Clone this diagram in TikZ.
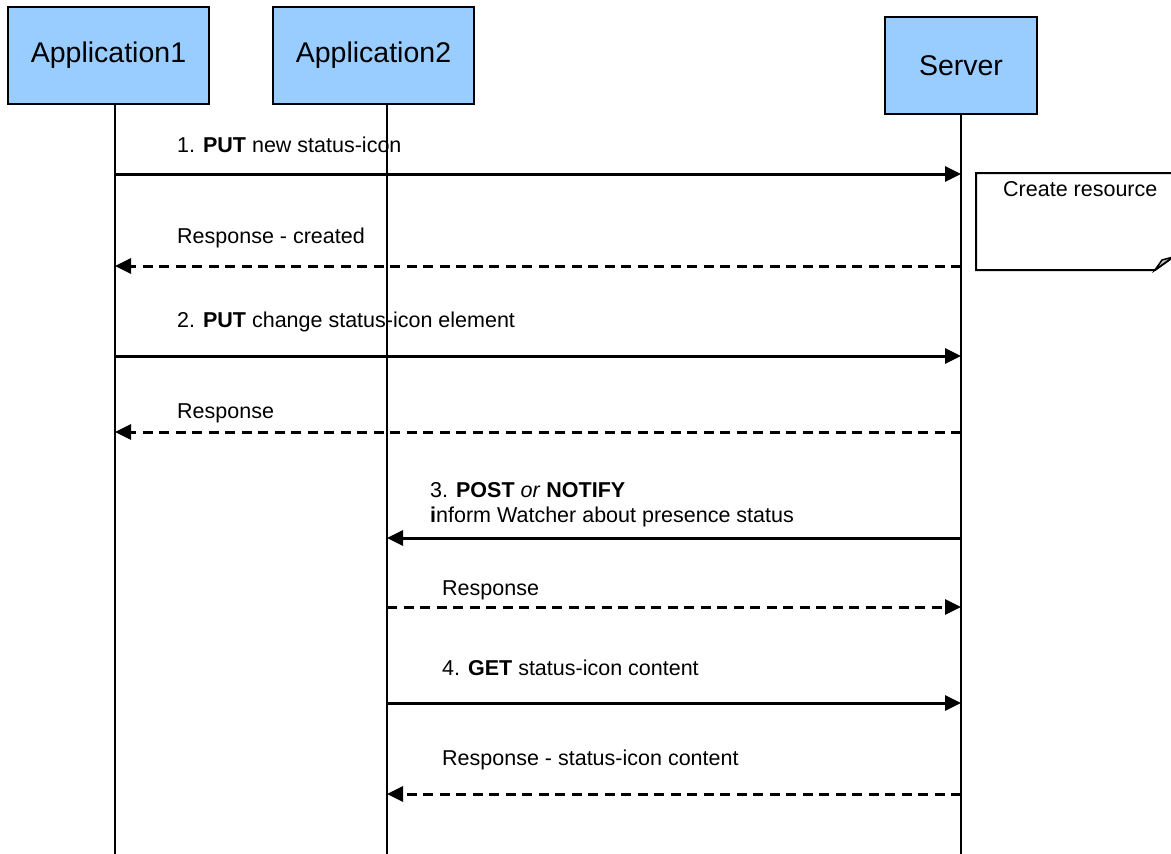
\documentclass[tikz,border=0pt]{standalone}
\usepackage{fontspec}
\setmainfont{Liberation Sans}
\usetikzlibrary{positioning,arrows.meta}
\definecolor{boxblue}{HTML}{99CCFF}
\definecolor{foldgray}{HTML}{C8C8C8}

\tikzset{
  entity/.style={draw=black, fill=boxblue, line width=2.5pt, inner sep=0pt, font=\fontsize{28.5}{34}\selectfont},
  lifeline/.style={line width=2pt},
  msg/.style={line width=3pt, -{Triangle[length=16pt,width=15pt]}},
  reply/.style={msg, dash pattern=on 10pt off 6.5pt},
  lbl/.style={anchor=base west, inner sep=0pt, font=\fontsize{21.5}{25}\selectfont},
}

\begin{document}
\begin{tikzpicture}[x=1pt,y=-1pt]
      \useasboundingbox (0,0) rectangle (1171,854);
      \clip (0,0) rectangle (1171,854);

      % participants
      \node[entity, minimum width=201pt, minimum height=97pt] (app1) at (108.5,55.5) {Application1};
      \node[entity, minimum width=201pt, minimum height=97pt] (app2) at (373.5,55.5) {Application2};
      \node[entity, minimum width=152pt, minimum height=97pt] (server) at (961,65.5) {Server};

      \coordinate (a1top) at (115,104);
      \coordinate (a2top) at (387,104);
      \coordinate (srvtop) at (961,114);
      \draw[lifeline] (a1top) -- (a1top |- 0,854);
      \draw[lifeline] (a2top) -- (a2top |- 0,854);
      \draw[lifeline] (srvtop) -- (srvtop |- 0,854);

      % note on the server
      \draw[line width=2pt, fill=white] (976,173) -- (1190,173) -- (1190,245) -- (1155,270) -- (976,270) -- cycle;
      \fill[foldgray, draw=black, line width=1.5pt] (1155,270) -- (1173,257) -- (1162,260) -- cycle;
      \node[lbl] (create) at (1003,196) {Create resource};

      % messages
      \node[lbl] (lab1) at (177,152) {1. \textbf{PUT} new status-icon};
      \draw[msg] (a1top |- 0,174) -- (srvtop |- 0,174);
      \node[lbl] (lab1r) at (177,243) {Response - created};
      \draw[reply] (srvtop |- 0,266) -- (a1top |- 0,266);

      \node[lbl] (lab2) at (177,327) {2. \textbf{PUT} change status-icon element};
      \draw[msg] (a1top |- 0,356) -- (srvtop |- 0,356);
      \node[lbl] (lab2r) at (177,418) {Response};
      \draw[reply] (srvtop |- 0,432) -- (a1top |- 0,432);

      \node[lbl] (lab3) at (430,497) {3. \textbf{POST} \textit{or} \textbf{NOTIFY}};
      \node[lbl] (lab3b) at (430,522) {\textbf{i}nform Watcher about presence status};
      \draw[msg] (srvtop |- 0,538) -- (a2top |- 0,538);
      \node[lbl] (lab3r) at (442,595) {Response};
      \draw[reply] (a2top |- 0,607) -- (srvtop |- 0,607);

      \node[lbl] (lab4) at (442,675) {4. \textbf{GET} status-icon content};
      \draw[msg] (a2top |- 0,703) -- (srvtop |- 0,703);
      \node[lbl] (lab4r) at (442,765) {Response - status-icon content};
      \draw[reply] (srvtop |- 0,794) -- (a2top |- 0,794);
    \end{tikzpicture}
\end{document}
